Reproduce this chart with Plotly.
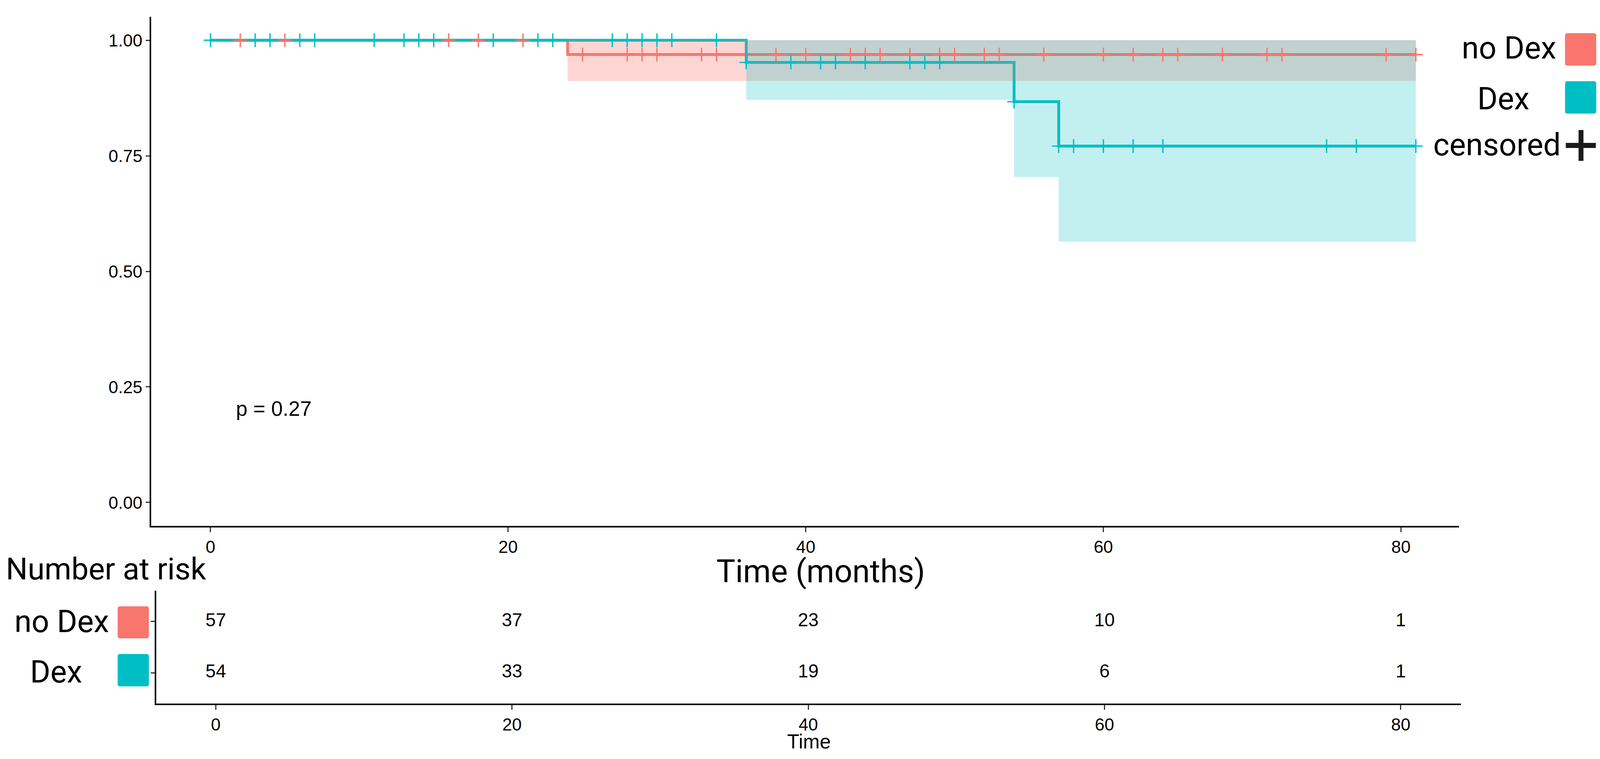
import plotly.graph_objects as go

W, H = 4256, 1944   # reference pixel frame used for placing things (paper fractions)
S = 1.0 / 1.034     # css-px correction for fonts / widths

# ---------------- data ----------------
groups = ["no Dex", "Dex"]
colors = ["#F8766D", "#00BFC4"]
fills = ["rgba(248,118,109,0.30)", "rgba(0,191,196,0.24)"]

nodex_t = [0, 24, 81]
nodex_s = [1.0, 0.969, 0.969]
nodex_lo = [1.0, 0.912, 0.912]
nodex_hi = [1.0, 1.0, 1.0]

dex_t = [0, 36, 54, 57, 81]
dex_s = [1.0, 0.952, 0.867, 0.771, 0.771]
dex_lo = [1.0, 0.871, 0.704, 0.564, 0.564]
dex_hi = [1.0, 1.0, 1.0, 1.0, 1.0]

nodex_cens = [2, 5, 16, 18, 21, 25, 28, 29, 30, 33, 34, 38, 40, 43, 44, 45, 47,
              49, 50, 52, 53, 56, 60, 62, 64, 65, 68, 71, 72, 79, 81]
dex_cens = [0, 3, 4, 6, 7, 11, 13, 14, 15, 19, 22, 23, 27, 28, 29, 30, 31, 34,
            36, 39, 41, 42, 44, 47, 48, 49, 54, 57, 58, 60, 62, 64, 75, 77, 81]

risk_times = [0, 20, 40, 60, 80]
risk_nodex = [57, 37, 23, 10, 1]
risk_dex = [54, 33, 19, 6, 1]

x_ticks = [0, 20, 40, 60, 80]
y_ticks = [0, 0.25, 0.5, 0.75, 1.0]
y_ticktext = ["0.00", "0.25", "0.50", "0.75", "1.00"]
p_text = "p = 0.27"

ARIAL = "Liberation Sans, Arial, sans-serif"
ROBOTO = "Roboto, sans-serif"


def step_at(ts, ss, t):
    v = ss[0]
    for ti, si in zip(ts, ss):
        if ti <= t:
            v = si
    return v


def px(x):
    return x / W


def py(y):
    return 1 - y / H


def sz(v):
    return v * S


fig = go.Figure()

series = [
    (nodex_t, nodex_s, nodex_lo, nodex_hi, nodex_cens),
    (dex_t, dex_s, dex_lo, dex_hi, dex_cens),
]

# survival step lines
for (t, s, lo, hi, c), col, name in zip(series, colors, groups):
    fig.add_trace(go.Scatter(x=t, y=s, mode="lines", line=dict(color=col, width=sz(7.5), shape="hv"),
                             name=name, showlegend=False, xaxis="x", yaxis="y"))

# confidence ribbons (drawn over the lines like ggplot)
for (t, s, lo, hi, c), fc in zip(series, fills):
    fig.add_trace(go.Scatter(x=t, y=hi, mode="lines", line=dict(width=0, shape="hv"),
                             showlegend=False, hoverinfo="skip", xaxis="x", yaxis="y"))
    fig.add_trace(go.Scatter(x=t, y=lo, mode="lines", line=dict(width=0, shape="hv"),
                             fill="tonexty", fillcolor=fc, showlegend=False,
                             hoverinfo="skip", xaxis="x", yaxis="y"))

# censor marks
for (t, s, lo, hi, c), col in zip(series, colors):
    fig.add_trace(go.Scatter(x=c, y=[step_at(t, s, v) for v in c], mode="markers",
                             marker=dict(symbol="cross-thin", size=sz(26),
                                         line=dict(color=col, width=sz(3.5))),
                             showlegend=False, xaxis="x", yaxis="y"))

# risk table numbers
for vals, row in ((risk_nodex, 2), (risk_dex, 1)):
    fig.add_trace(go.Scatter(x=risk_times, y=[row] * len(risk_times), mode="text",
                             text=[str(v) for v in vals],
                             textfont=dict(family=ARIAL, size=sz(49), color="black"),
                             showlegend=False, xaxis="x2", yaxis="y2"))

axis_common = dict(showgrid=False, zeroline=False, showline=True, linecolor="black",
                   linewidth=sz(4), ticks="outside", tickcolor="#333333", tickwidth=sz(3.5))
tickfont = dict(family=ARIAL, size=sz(46), color="black")

fig.update_layout(
    autosize=True,
    margin=dict(l=0, r=0, t=0, b=0, pad=0),
    paper_bgcolor="white", plot_bgcolor="rgba(0,0,0,0)",
    showlegend=False,
    xaxis=dict(domain=[px(402), px(3881)], range=[-3.99, 83.9], tickvals=x_ticks,
               ticklen=sz(12), tickfont=tickfont, anchor="y", **axis_common),
    yaxis=dict(domain=[py(1347), py(43)], range=[-0.0507, 1.0507], tickvals=y_ticks,
               ticktext=y_ticktext, ticklen=sz(10), tickfont=tickfont,
               anchor="x", **axis_common),
    xaxis2=dict(domain=[px(416), px(3886)], range=[-4.01, 84.06], tickvals=x_ticks,
                ticklen=sz(12), tickfont=tickfont, anchor="y2", **axis_common),
    yaxis2=dict(domain=[py(1802), py(1513)], range=[0.4, 2.6], tickvals=[1, 2],
                showticklabels=False, ticklen=sz(11), anchor="x2", **axis_common),
)


def ann(text, x, y, size, family, xanchor="center"):
    fig.add_annotation(text=text, x=px(x), y=py(y), xref="paper", yref="paper",
                       xanchor=xanchor, yanchor="middle", showarrow=False,
                       font=dict(family=family, size=sz(size), color="black"))


ann(p_text, 625, 1046, 55, ARIAL, "left")
ann("Time (months)", 2183, 1463, 84, ROBOTO)
ann("Number at risk", 14, 1457, 81, ROBOTO, "left")
ann("Time", 2152, 1899, 53, ARIAL)
ann(groups[0], 164, 1591, 82, ROBOTO)
ann(groups[1], 149, 1720, 82, ROBOTO)
ann(groups[0], 4014, 123, 82, ROBOTO)
ann(groups[1], 3999, 252, 82, ROBOTO)
ann("censored", 3982, 370, 82, ROBOTO)


def rounded_rect(x0, y0, x1, y1, r, color):
    def P(x, y):
        return f"{px(x):.6f},{py(y):.6f}"
    path = (f"M {P(x0 + r, y0)} L {P(x1 - r, y0)} Q {P(x1, y0)} {P(x1, y0 + r)} "
            f"L {P(x1, y1 - r)} Q {P(x1, y1)} {P(x1 - r, y1)} "
            f"L {P(x0 + r, y1)} Q {P(x0, y1)} {P(x0, y1 - r)} "
            f"L {P(x0, y0 + r)} Q {P(x0, y0)} {P(x0 + r, y0)} Z")
    fig.add_shape(type="path", path=path, xref="paper", yref="paper",
                  fillcolor=color, line=dict(width=0))


rounded_rect(4163, 85, 4246, 168, 6, colors[0])
rounded_rect(4163, 208, 4246, 291, 6, colors[1])
rounded_rect(313, 1553, 396, 1635, 6, colors[0])
rounded_rect(313, 1675, 396, 1758, 6, colors[1])

# legend "+" for censored
for (x0, y0, x1, y1) in ((4165, 366, 4245, 379), (4199, 333, 4212, 412)):
    fig.add_shape(type="rect", x0=px(x0), x1=px(x1), y0=py(y1), y1=py(y0),
                  xref="paper", yref="paper", fillcolor="#1a1a1a", line=dict(width=0))

fig.write_html(
    "out.html",
    default_width="100vw", default_height="100vh",
    config={"displayModeBar": False, "responsive": True},
    post_script="document.documentElement.style.margin='0';document.body.style.margin='0';"
                "document.body.style.overflow='hidden';",
)
